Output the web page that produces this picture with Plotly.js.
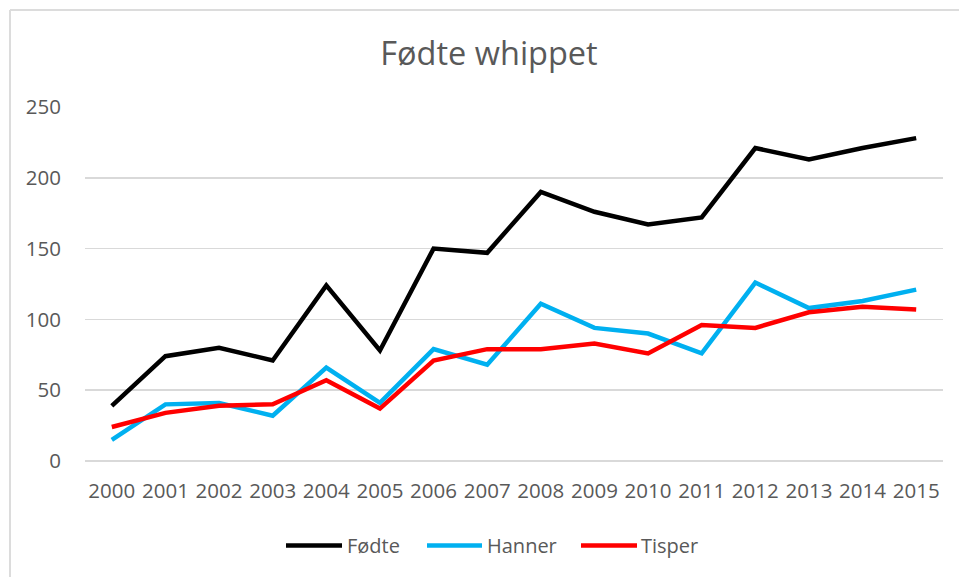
<!DOCTYPE html>
<html>
<head>
<meta charset="utf-8">
<script src="https://cdn.plot.ly/plotly-3.0.1.min.js"></script>
<style>
html,body{margin:0;padding:0;background:#fff;}
#chart{width:959px;height:577px;}
</style>
</head>
<body>
<div id="chart"></div>
<script>
const years = ["2000","2001","2002","2003","2004","2005","2006","2007","2008","2009","2010","2011","2012","2013","2014","2015"];
const fodte  = [39, 74, 80, 71, 124, 78, 150, 147, 190, 176, 167, 172, 221, 213, 221, 228];
const hanner = [15, 40, 41, 32, 66, 41, 79, 68, 111, 94, 90, 76, 126, 108, 113, 121];
const tisper = [24, 34, 39, 40, 57, 37, 71, 79, 79, 83, 76, 96, 94, 105, 109, 107];
const seriesNames = ["Fødte", "Hanner", "Tisper"];
const seriesColors = ["#000000", "#00b0f0", "#ff0000"];
const yTicks = [0, 50, 100, 150, 200, 250];

const FONT = '"Open Sans", "Noto Sans", sans-serif';
const GREY = '#595959';
const GRID = '#d9d9d9';

const ML = 85, MR = 16, MT = 107, MB = 116;
const W = 959, H = 577;
const PW = W - ML - MR, PH = H - MT - MB;
const px2x = p => (p - ML) / PW;
const py2y = p => (H - MB - p) / PH;

const data = [fodte, hanner, tisper].map((vals, i) => ({
  type: 'scatter', mode: 'lines', x: years, y: vals, name: seriesNames[i],
  line: {color: seriesColors[i], width: 4.5}, showlegend: false, hoverinfo: 'x+y+name'
}));

// custom legend (longer line swatches like the reference)
const legendItems = [
  {x0: 286, x1: 342, tx: 345},
  {x0: 427, x1: 482, tx: 485},
  {x0: 581, x1: 637, tx: 639}
];
const legendY = 545.5;
const shapes = [];
const annotations = [];
legendItems.forEach((it, i) => {
  shapes.push({type: 'line', xref: 'paper', yref: 'paper',
    x0: px2x(it.x0), x1: px2x(it.x1), y0: py2y(legendY), y1: py2y(legendY),
    line: {color: seriesColors[i], width: 4.5}});
  annotations.push({xref: 'paper', yref: 'paper', x: px2x(it.tx), y: py2y(legendY),
    xanchor: 'left', yanchor: 'middle', text: seriesNames[i], showarrow: false,
    font: {family: FONT, size: 20, color: GREY}});
});
// chart-area border (top and left edges visible)
shapes.push({type: 'line', xref: 'paper', yref: 'paper',
  x0: px2x(10), x1: px2x(965), y0: py2y(10), y1: py2y(10), line: {color: '#dcdcdc', width: 2}});
shapes.push({type: 'line', xref: 'paper', yref: 'paper',
  x0: px2x(10), x1: px2x(10), y0: py2y(10), y1: py2y(585), line: {color: '#dcdcdc', width: 2}});

const layout = {
  width: W, height: H,
  margin: {l: ML, r: MR, t: MT, b: MB, pad: 0},
  paper_bgcolor: '#ffffff', plot_bgcolor: '#ffffff',
  font: {family: FONT, color: GREY},
  title: {text: 'Fødte whippet', xref: 'container', yref: 'container',
    x: 489 / W, y: 1 - 54 / H, xanchor: 'center', yanchor: 'middle',
    font: {family: FONT, size: 32.5, color: GREY}},
  xaxis: {type: 'category', range: [-0.5, 15.5], tickangle: 0,
    showgrid: false, zeroline: false, showline: false,
    ticks: 'outside', ticklen: 11, tickcolor: 'rgba(0,0,0,0)',
    tickfont: {family: FONT, size: 20.5, color: GREY}, fixedrange: true},
  yaxis: {range: [0, 250], tickvals: yTicks, ticktext: yTicks.map(String),
    showgrid: true, gridcolor: GRID, gridwidth: 1.5,
    zeroline: true, zerolinecolor: GRID, zerolinewidth: 1.5, showline: false,
    ticks: 'outside', ticklen: 19, tickcolor: 'rgba(0,0,0,0)',
    tickfont: {family: FONT, size: 20.5, color: GREY}, fixedrange: true},
  shapes: shapes,
  annotations: annotations,
  showlegend: false
};

Plotly.newPlot('chart', data, layout, {displayModeBar: false, staticPlot: true});
</script>
</body>
</html>
